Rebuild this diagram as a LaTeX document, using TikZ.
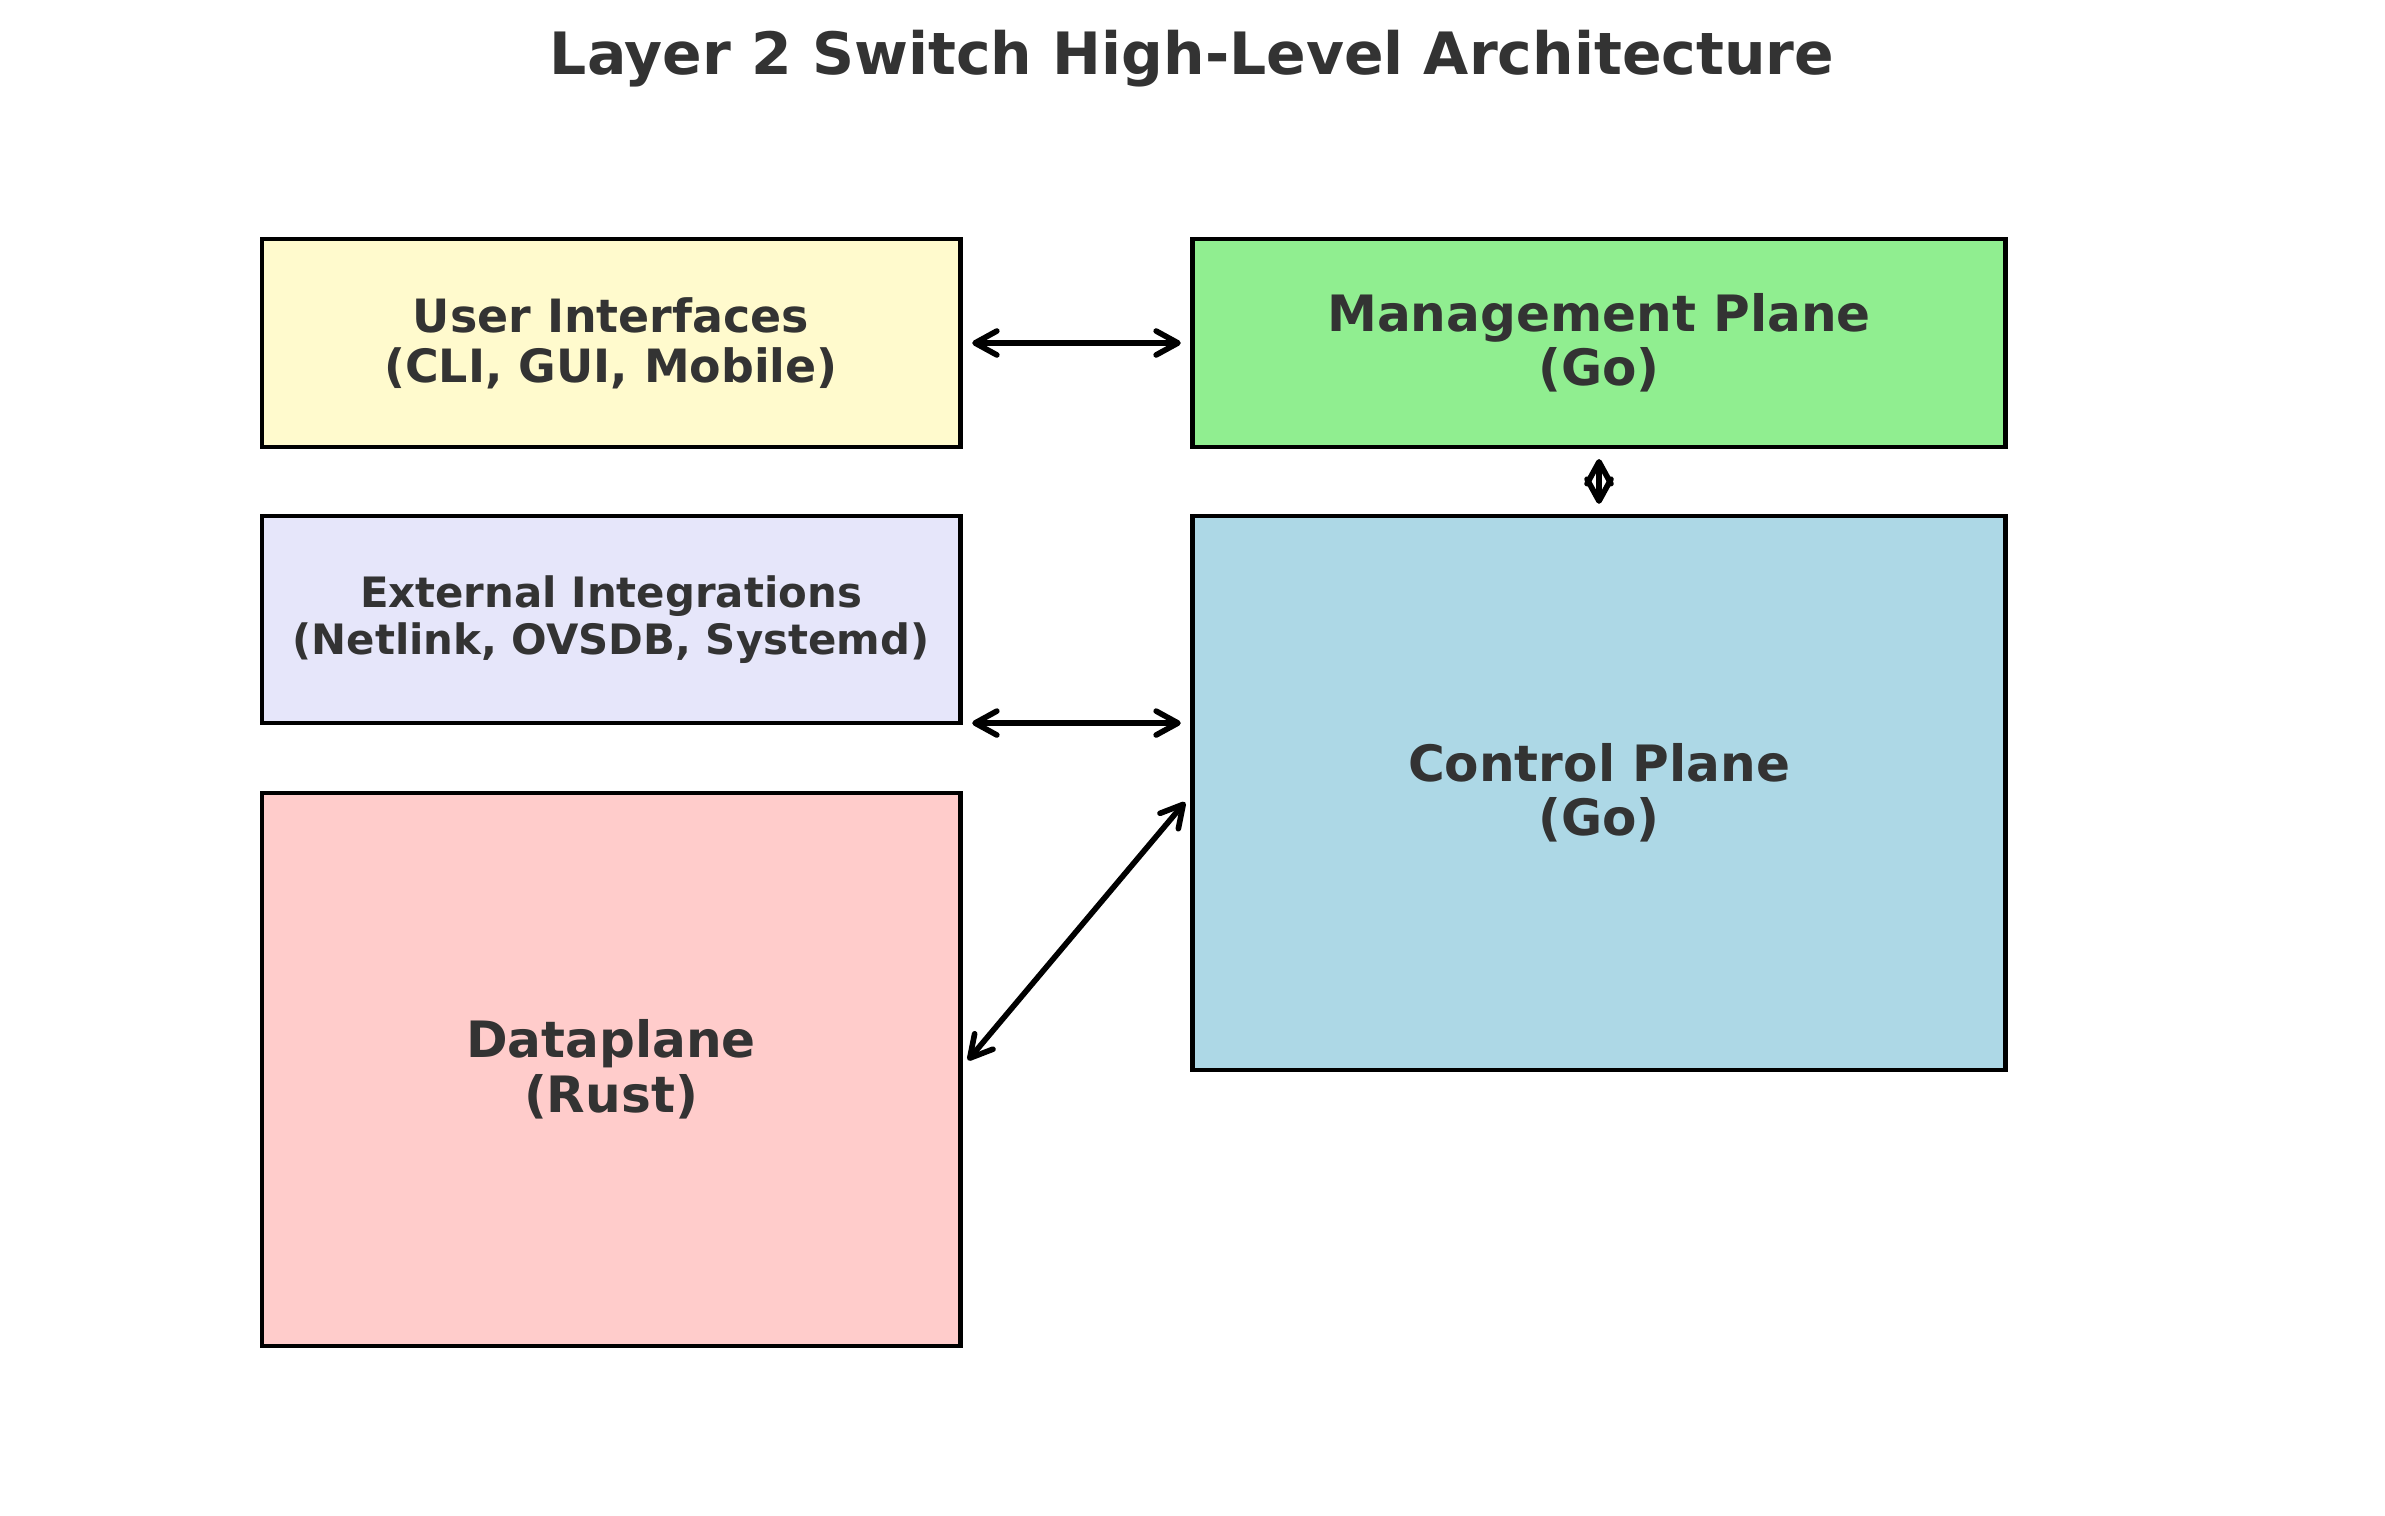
\documentclass[tikz,border=0pt]{standalone}
\usepackage{fontspec}
\setmainfont{DejaVu Sans}
\usetikzlibrary{arrows.meta,calc}
\definecolor{txt}{HTML}{333333}
\definecolor{uifill}{HTML}{FFFACD}
\definecolor{mpfill}{HTML}{90EE90}
\definecolor{eifill}{HTML}{E6E6FA}
\definecolor{cpfill}{HTML}{ADD8E6}
\definecolor{dpfill}{HTML}{FFCCCB}
\begin{document}
\begin{tikzpicture}[x=0.01cm,y=-0.01cm,
  box/.style={draw=black, line width=1.3pt, inner sep=0pt, outer sep=0pt, align=center, text=txt},
  big/.style={font=\bfseries\fontsize{14.25}{15.5}\selectfont},
  mid/.style={font=\bfseries\fontsize{13.05}{14.2}\selectfont},
  small/.style={font=\bfseries\fontsize{11.9}{13.4}\selectfont},
  tip/.tip={Straight Barb[length=6.2pt,width=6.8pt,line cap=round,line join=round]},
  link/.style={line width=1.6pt, line cap=round, tip-tip, shorten <=0.12cm, shorten >=0.12cm}]
\useasboundingbox (0,0) rectangle (2385,1516);
\node[font=\bfseries\fontsize{16.6}{20}\selectfont, text=txt, anchor=base] (title) at (1192,75) {Layer 2 Switch High-Level Architecture};
\node[box, mid, fill=uifill, minimum width=6.98cm, minimum height=2.08cm] (ui) at (611,343) {User Interfaces\\(CLI, GUI, Mobile)};
\node[box, big, fill=mpfill, minimum width=8.12cm, minimum height=2.08cm] (mp) at (1599,343) {Management Plane\\(Go)};
\node[box, small, fill=eifill, minimum width=6.98cm, minimum height=2.07cm] (ei) at (611,619.5) {External Integrations\\(Netlink, OVSDB, Systemd)};
\node[box, big, fill=cpfill, minimum width=8.12cm, minimum height=5.54cm] (cp) at (1599,793) {Control Plane\\(Go)};
\node[box, big, fill=dpfill, minimum width=6.98cm, minimum height=5.53cm] (dp) at (611,1069.5) {Dataplane\\(Rust)};
\draw[link] (ui.east) -- (mp.west);
\draw[link] (mp.south) -- (cp.north);
\draw[link] (ei.south east) -- (cp.west |- ei.south east);
\draw[link] (dp.east) -- (cp.west);
\end{tikzpicture}
\end{document}
